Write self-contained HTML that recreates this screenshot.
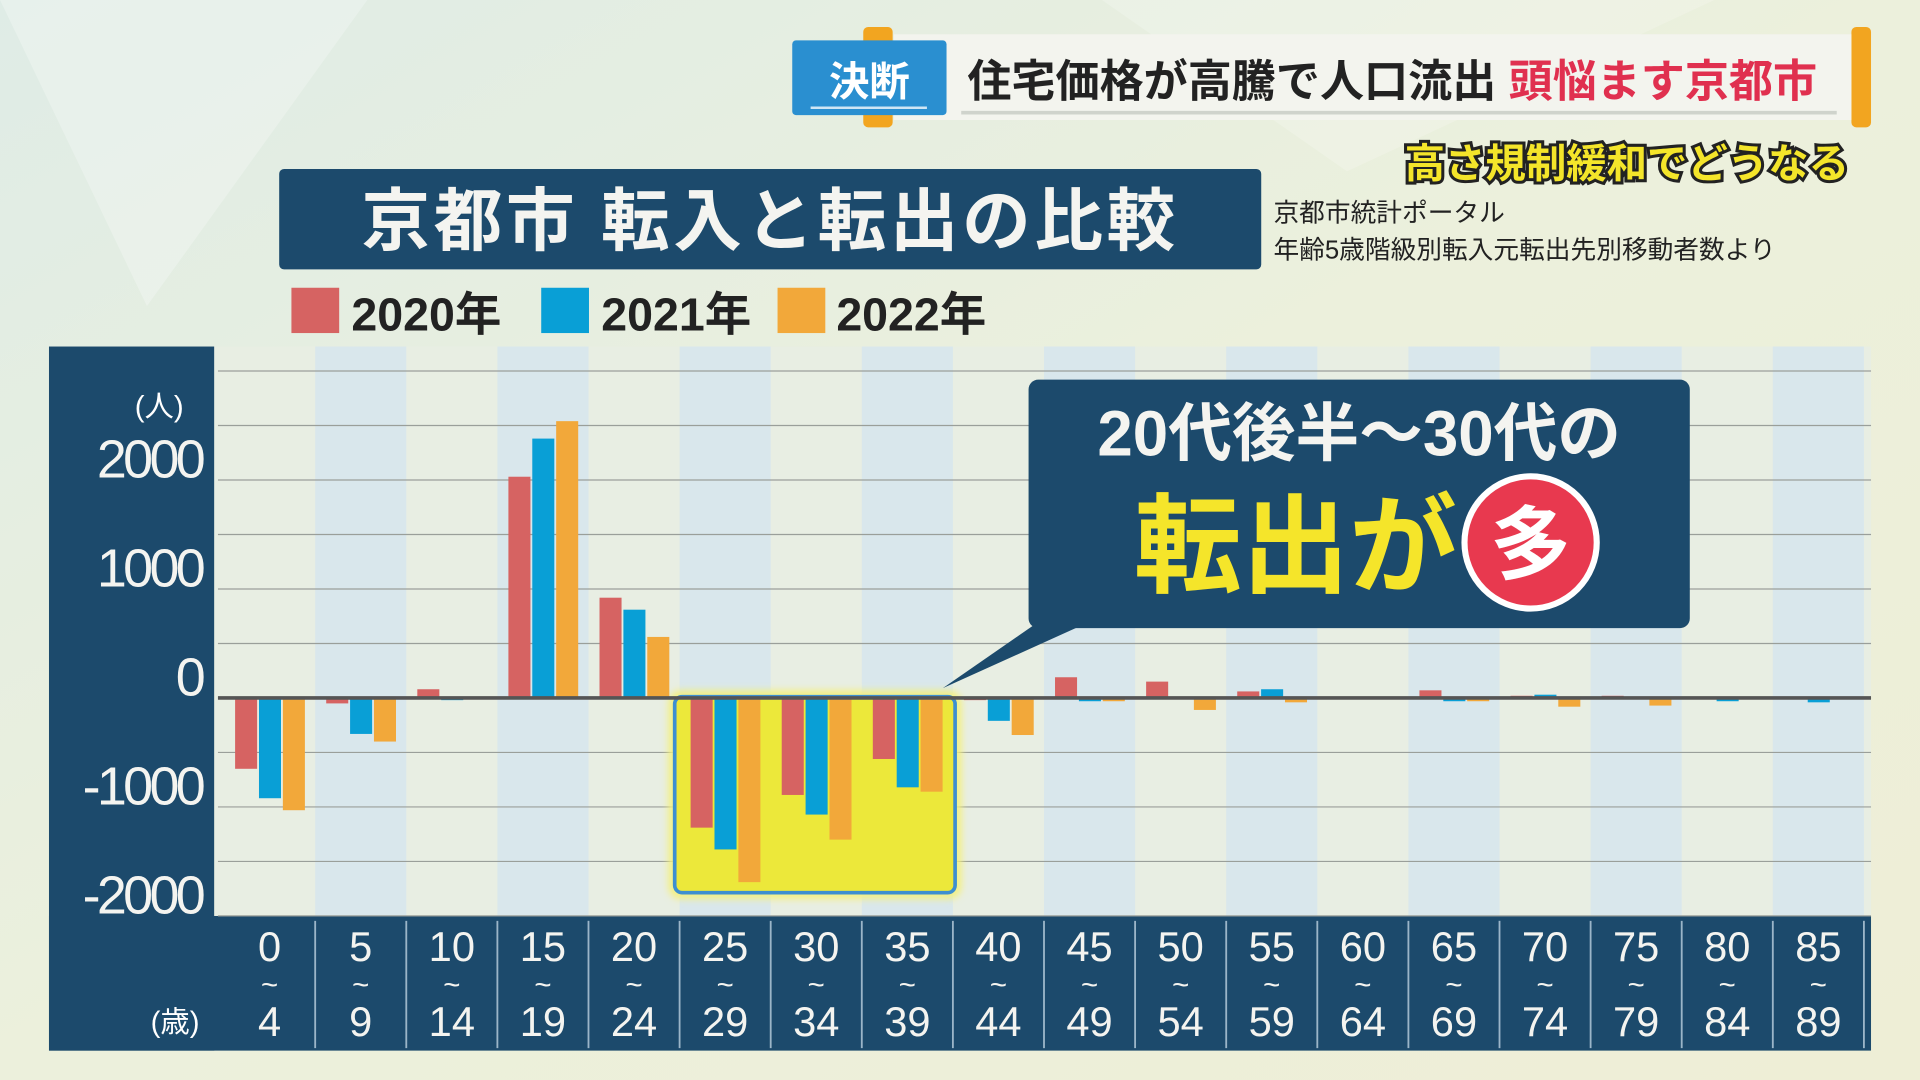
<!DOCTYPE html>
<html><head><meta charset="utf-8"><style>
html,body{margin:0;padding:0;width:1920px;height:1080px;overflow:hidden;background:#e9eedd;}
svg{display:block;font-family:"Liberation Sans","Noto Sans CJK JP",sans-serif;}
</style></head><body>
<svg id="chart" width="1920" height="1080" viewBox="0 0 1568 882" xmlns="http://www.w3.org/2000/svg">
<defs>
<linearGradient id="bg" x1="0" y1="0" x2="1" y2="1"><stop offset="0" stop-color="#dfece6"/><stop offset="0.5" stop-color="#ecf0dc"/><stop offset="1" stop-color="#eeeed6"/></linearGradient>
<filter id="glow"><feGaussianBlur stdDeviation="3"/></filter>
</defs>
<rect x="0" y="0" width="1568" height="882" fill="url(#bg)"/>
<polygon points="0,0 300,0 120,250" fill="#fff" opacity="0.25"/>
<polygon points="900,0 1400,0 1100,140" fill="#fff" opacity="0.2"/>

<!-- header -->
<g>
<rect x="705" y="22" width="24" height="82" fill="#f2a520" rx="4"/>
<rect x="1512" y="22" width="16" height="82" fill="#f2a520" rx="4"/>
<rect x="730" y="28" width="782" height="70" fill="#f3f4ee"/>
<line x1="785" y1="92" x2="1500" y2="92" stroke="#cfd3cc" stroke-width="3"/>
<rect x="647" y="33" width="126" height="61" fill="#2a8fd0" rx="3"/>
<text x="710" y="78" font-size="33" font-weight="bold" fill="#fff" text-anchor="middle">決断</text>
<line x1="662" y1="88" x2="757" y2="88" stroke="#cfe6f5" stroke-width="2"/>
<text x="790" y="79" font-size="36" font-weight="bold" fill="#222">住宅価格が高騰で人口流出 <tspan fill="#e0304f">頭悩ます京都市</tspan></text>
</g>
<text x="1510" y="145" font-size="33" font-weight="bold" fill="#f4e52a" stroke="#222" stroke-width="5" paint-order="stroke" text-anchor="end">高さ規制緩和でどうなる</text>

<rect x="228" y="138" width="802" height="82" fill="#1c4a6c" rx="4"/>
<text x="629" y="200" font-size="56" font-weight="bold" fill="#f4f4f0" text-anchor="middle" letter-spacing="3">京都市  転入と転出の比較</text>
<text x="1040" y="181" font-size="21" fill="#222">京都市統計ポータル</text>
<text x="1040" y="211" font-size="21" fill="#222">年齢5歳階級別転入元転出先別移動者数より</text>

<g>
<rect x="238" y="235" width="39" height="37" fill="#d66362"/>
<text x="287" y="270" font-size="38" font-weight="bold" fill="#222">2020年</text>
<rect x="442" y="235" width="39" height="37" fill="#099fd6"/>
<text x="491" y="270" font-size="38" font-weight="bold" fill="#222">2021年</text>
<rect x="635" y="235" width="39" height="37" fill="#f2a83a"/>
<text x="683" y="270" font-size="38" font-weight="bold" fill="#222">2022年</text>
</g>

<!-- panels -->
<rect x="40" y="283" width="135" height="575" fill="#1c4a6c"/>
<rect x="40" y="748" width="1488" height="110" fill="#1c4a6c"/>
<rect x="175" y="283" width="1353" height="465" fill="#e8eee3"/>
<g id="stripes"></g>
<g id="grid"></g>
<g>
<rect x="550" y="568" width="231" height="162" rx="6" fill="none" stroke="#f4f07a" stroke-width="8" filter="url(#glow)"/>
<rect x="551" y="569" width="229" height="160" rx="6" fill="#ece83a" stroke="#3d8fd0" stroke-width="3"/>
</g>
<g id="bars"></g>
<line id="zeroline" x1="178" x2="1528" stroke="#555" stroke-width="3"/>
<g id="yticks"></g>
<g id="xticks"></g>
<text x="130" y="340" font-size="24" fill="#fff" text-anchor="middle">(人)</text>
<text x="143" y="843" font-size="24" fill="#fff" text-anchor="middle">(歳)</text>

<!-- callout -->
<g>
<polygon points="885,510 770,562 845,510" fill="#1c4a6c"/>
<rect x="840" y="310" width="540" height="203" rx="8" fill="#1c4a6c"/>
<text x="1110" y="372" font-size="52" font-weight="bold" fill="#f4f4f0" text-anchor="middle">20代後半～30代の</text>
<text x="1058" y="477" font-size="88" font-weight="bold" fill="#f5e52a" text-anchor="middle">転出が</text>
<circle cx="1250" cy="443" r="54" fill="#e8394f" stroke="#fff" stroke-width="5"/>
<text x="1250" y="468" font-size="66" font-weight="bold" fill="#fff" text-anchor="middle">多</text>
</g>
</svg>
<script>
const categories = ["0","5","10","15","20","25","30","35","40","45","50","55","60","65","70","75","80","85"];
const categoryEnds = ["4","9","14","19","24","29","34","39","44","49","54","59","64","69","74","79","84","89"];
const values2020 = [-650,-50,80,2030,920,-1190,-890,-560,-20,190,150,60,-10,70,20,20,-10,0];
const values2021 = [-920,-330,-20,2380,810,-1390,-1070,-820,-210,-30,0,80,-10,-30,30,-10,-30,-40];
const values2022 = [-1030,-400,-10,2540,560,-1690,-1300,-860,-340,-30,-110,-40,-10,-30,-80,-70,10,10];
const yTicks = [2000,1000,0,-1000,-2000];
const gridValues = [3000,2500,2000,1500,1000,500,0,-500,-1000,-1500,-2000];
const seriesColors = ["#d66362","#099fd6","#f2a83a"];
const NS = "http://www.w3.org/2000/svg";
const x0 = 183, bw = 74.4;
function xBand(i){ return x0 + i*bw; }
function yScale(v){ return 570 - v*0.089; }
function mk(tag, attrs, parent){ const e=document.createElementNS(NS,tag); for(const k in attrs) e.setAttribute(k,attrs[k]); parent.appendChild(e); return e; }
const stripes=document.getElementById('stripes'), grid=document.getElementById('grid'), bars=document.getElementById('bars');
const yt=document.getElementById('yticks'), xt=document.getElementById('xticks');
categories.forEach((c,i)=>{
  if(i%2===1){ const s=mk('rect',{x:xBand(i),y:283,width:bw,height:465,fill:'#d9e7ec'},stripes);
    
     }
  if(i>0){ const d=mk('line',{x1:xBand(i),x2:xBand(i),y1:752,y2:856,stroke:'#9bb5c8','stroke-width':1.5},xt);
    
     }
  const cx = xBand(i)+bw/2;
  const t=mk('text',{x:cx,y:785,'font-size':34,fill:'#f4f4f0','text-anchor':'middle'},xt);
  t.textContent=c;
  
  
  const tl=mk('text',{x:cx,y:812,'font-size':24,fill:'#f4f4f0','text-anchor':'middle'},xt);
  tl.textContent='~';
  
  
  const t2=mk('text',{x:cx,y:846,'font-size':34,fill:'#f4f4f0','text-anchor':'middle'},xt);
  t2.textContent=categoryEnds[i];
  
  
  [values2020,values2021,values2022].forEach((arr,s)=>{
    const v=arr[i]; const y1=yScale(Math.max(v,0)), y2=yScale(Math.min(v,0));
    const r=mk('rect',{x:xBand(i)+9+s*19.5,y:y1,width:18,height:Math.max(y2-y1,0.5),fill:seriesColors[s]},bars);
    
    
  });
});
mk('line',{x1:xBand(18),x2:xBand(18),y1:752,y2:856,stroke:'#9bb5c8','stroke-width':1.5},xt);
gridValues.forEach(v=>{ const g=mk('line',{x1:178,x2:1528,y1:yScale(v),y2:yScale(v),stroke:'#9a9f9a','stroke-width':1},grid);
  
   });
const z=document.getElementById('zeroline'); z.setAttribute('y1',yScale(0)); z.setAttribute('y2',yScale(0));
yTicks.forEach(v=>{ const t=mk('text',{x:165,y:yScale(v)-2,'font-size':44,fill:'#f4f4f0','text-anchor':'end','letter-spacing':'-3'},yt);
  t.textContent=String(v);
  
   });
</script>
</body></html>
